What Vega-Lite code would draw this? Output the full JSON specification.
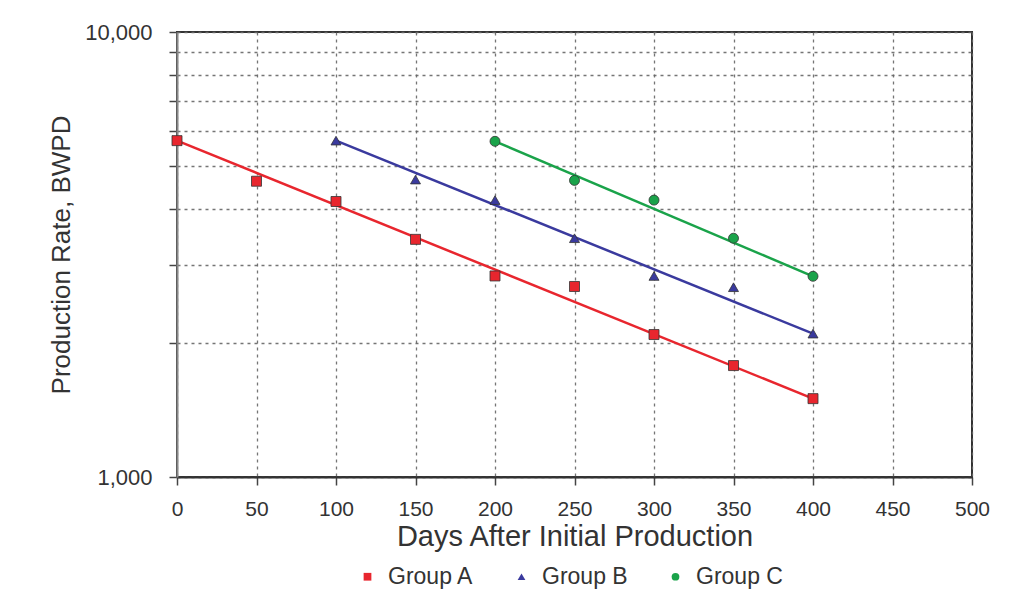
{
  "$schema": "https://vega.github.io/schema/vega-lite/v6.json",
  "autosize": {"type": "none"},
  "width": 795,
  "height": 445,
  "padding": {"left": 177, "top": 32, "right": 47, "bottom": 122},
  "background": "white",
  "config": {
    "font": "Liberation Sans",
    "view": {"stroke": "#333", "strokeWidth": 2},
    "axis": {
      "labelFont": "Liberation Sans",
      "titleFont": "Liberation Sans",
      "labelColor": "#333",
      "titleColor": "#333",
      "titleFontWeight": "normal",
      "gridColor": "#666",
      "gridDash": [3, 4],
      "gridWidth": 1.3,
      "gridOpacity": 0.9,
      "tickColor": "#444",
      "tickWidth": 1.5
    },
    "legend": {
      "labelFont": "Liberation Sans",
      "labelFontSize": 23,
      "labelColor": "#333"
    }
  },
  "datasets": {
    "points": [
      {"group": "Group A", "day": 0, "rate": 5700},
      {"group": "Group A", "day": 50, "rate": 4620},
      {"group": "Group A", "day": 100, "rate": 4160},
      {"group": "Group A", "day": 150, "rate": 3420},
      {"group": "Group A", "day": 200, "rate": 2830},
      {"group": "Group A", "day": 250, "rate": 2680},
      {"group": "Group A", "day": 300, "rate": 2090},
      {"group": "Group A", "day": 350, "rate": 1780},
      {"group": "Group A", "day": 400, "rate": 1500},
      {"group": "Group B", "day": 100, "rate": 5700},
      {"group": "Group B", "day": 150, "rate": 4660},
      {"group": "Group B", "day": 200, "rate": 4190},
      {"group": "Group B", "day": 250, "rate": 3440},
      {"group": "Group B", "day": 300, "rate": 2830},
      {"group": "Group B", "day": 350, "rate": 2670},
      {"group": "Group B", "day": 400, "rate": 2100},
      {"group": "Group C", "day": 200, "rate": 5680},
      {"group": "Group C", "day": 250, "rate": 4640},
      {"group": "Group C", "day": 300, "rate": 4190},
      {"group": "Group C", "day": 350, "rate": 3440},
      {"group": "Group C", "day": 400, "rate": 2825}
    ],
    "trend": [
      {"group": "Group A", "day": 0, "rate": 5700},
      {"group": "Group A", "day": 400, "rate": 1500},
      {"group": "Group B", "day": 100, "rate": 5700},
      {"group": "Group B", "day": 400, "rate": 2100},
      {"group": "Group C", "day": 200, "rate": 5680},
      {"group": "Group C", "day": 400, "rate": 2825}
    ]
  },
  "layer": [
    {
      "data": {"name": "trend"},
      "mark": {"type": "line", "strokeWidth": 2.5},
      "encoding": {
        "x": {
          "field": "day", "type": "quantitative",
          "scale": {"domain": [0, 500], "nice": false, "zero": false},
          "axis": {
            "values": [0, 50, 100, 150, 200, 250, 300, 350, 400, 450, 500],
            "title": "Days After Initial Production",
            "titleFontSize": 29,
            "titlePadding": 3,
            "labelFontSize": 21,
            "labelPadding": 13,
            "tickSize": 8,
            "domainColor": "#333",
            "domainWidth": 2,
            "labelFlush": false
          }
        },
        "y": {
          "field": "rate", "type": "quantitative",
          "scale": {"type": "log", "domain": [1000, 10000], "nice": false},
          "axis": {
            "values": [1000, 2000, 3000, 4000, 5000, 6000, 7000, 8000, 9000, 10000],
            "labelExpr": "datum.value == 1000 || datum.value == 10000 ? format(datum.value, ',') : ''",
            "title": "Production Rate, BWPD",
            "titleFontSize": 26,
            "titlePadding": 10,
            "labelFontSize": 22,
            "labelPadding": 17,
            "tickSize": 8,
            "domainColor": "#888",
            "domainWidth": 2,
            "labelFlush": false
          }
        },
        "color": {
          "field": "group", "type": "nominal",
          "scale": {"domain": ["Group A", "Group B", "Group C"], "range": ["#e8262e", "#3a3a9e", "#1aa34a"]},
          "legend": {
            "title": null,
            "orient": "none",
            "direction": "horizontal",
            "legendX": 179,
            "legendY": 533,
            "symbolSize": 60,
            "symbolStrokeWidth": 0,
            "labelOffset": 9,
            "columnPadding": 36
          }
        }
      }
    },
    {
      "data": {"name": "points"},
      "mark": {"type": "point", "filled": true, "size": 100, "stroke": "#333", "strokeWidth": 0.8, "opacity": 1},
      "encoding": {
        "x": {"field": "day", "type": "quantitative"},
        "y": {"field": "rate", "type": "quantitative"},
        "color": {"field": "group", "type": "nominal"},
        "shape": {
          "field": "group", "type": "nominal",
          "scale": {"domain": ["Group A", "Group B", "Group C"], "range": ["square", "triangle-up", "circle"]},
          "legend": {
            "title": null,
            "orient": "none",
            "direction": "horizontal",
            "legendX": 179,
            "legendY": 533,
            "symbolSize": 60,
            "symbolStrokeWidth": 0,
            "labelOffset": 9,
            "columnPadding": 36
          }
        }
      }
    }
  ]
}
